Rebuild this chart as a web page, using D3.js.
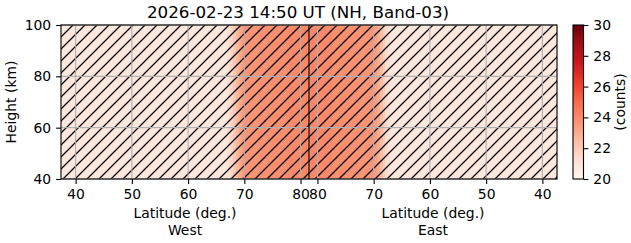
<!DOCTYPE html>
<html>
<head>
<meta charset="utf-8">
<script src="https://cdn.jsdelivr.net/npm/d3@7"></script>
<style>
  body { margin: 0; background: #fff; }
  text { font-family: 'DejaVu Sans', sans-serif; fill: #000; }
</style>
</head>
<body>
<div id="chart"></div>
<script>
const titleText = '2026-02-23 14:50 UT (NH, Band-03)'
const heightRange = [40, 100]
const heightTicks = [40, 60, 80, 100]
const latTicks = [40, 50, 60, 70, 80]
const centerLat = 81.5
const edgeLat = 37.4
// column edges run from the outer edge toward the pole
const westEdges = [37.4, 67.0, 67.5, 68.0, 68.5, 69.0, 69.5, 70.0, 72.5, 75.0, 77.5, 80.0, 81.5]
const westCounts = [20.8, 21.2, 21.6, 22.1, 22.6, 23.1, 23.5, 23.7, 23.8, 23.9, 24.0, 24.1]
const eastEdges = [37.4, 67.0, 67.5, 68.0, 68.5, 69.0, 69.5, 70.0, 72.5, 75.0, 77.5, 80.0, 81.5]
const eastCounts = [20.8, 21.1, 21.4, 21.9, 22.4, 23.0, 23.4, 23.7, 23.8, 23.9, 24.0, 24.1]
const countDomain = [20, 30]
const countTicks = [20, 22, 24, 26, 28, 30]
const redsScheme = ['#fff5f0', '#fee0d2', '#fcbba1', '#fc9272', '#fb6a4a', '#ef3b2c', '#cb181d', '#a50f15', '#67000d']

const W = 631
const H = 243
const margin = { top: 25, left: 61, right: 74, bottom: 64 }
const width = W - margin.left - margin.right
const height = H - margin.top - margin.bottom

const color = d3.scaleSequential(d3.piecewise(d3.interpolateRgb, redsScheme)).domain(countDomain)
const xWest = d3.scaleLinear().domain([edgeLat, centerLat]).range([0, width / 2])
const xEast = d3.scaleLinear().domain([centerLat, edgeLat]).range([width / 2, width])
const y = d3.scaleLinear().domain(heightRange).range([height, 0])

const svg = d3.select('#chart').append('svg')
  .attr('width', W)
  .attr('height', H)

const defs = svg.append('defs')
const hs = 12
const hatch = defs.append('pattern')
  .attr('id', 'hatch')
  .attr('patternUnits', 'userSpaceOnUse')
  .attr('width', hs)
  .attr('height', hs)
hatch.append('path')
  .attr('d', `M0,${hs} L${hs},0 M${-hs / 2},${hs / 2} L${hs / 2},${-hs / 2} M${hs / 2},${hs * 1.5} L${hs * 1.5},${hs / 2}`)
  .attr('stroke', '#000')
  .attr('stroke-width', 1.3)

const g = svg.append('g').attr('transform', `translate(${margin.left}, ${margin.top})`)

const cols = []
westCounts.forEach((v, i) => {
  const a = xWest(westEdges[i]), b = xWest(westEdges[i + 1])
  cols.push({ x0: Math.min(a, b), x1: Math.max(a, b), v })
})
eastCounts.forEach((v, i) => {
  const a = xEast(eastEdges[i]), b = xEast(eastEdges[i + 1])
  cols.push({ x0: Math.min(a, b), x1: Math.max(a, b), v })
})

g.selectAll('.col')
  .data(cols)
  .enter()
  .append('rect')
  .attr('class', 'col')
  .attr('x', (d) => d.x0)
  .attr('width', (d) => d.x1 - d.x0 + 0.5)
  .attr('y', y(heightRange[1]))
  .attr('height', y(heightRange[0]) - y(heightRange[1]))
  .attr('fill', (d) => color(d.v))
  .attr('shape-rendering', 'crispEdges')

g.append('rect')
  .attr('width', width)
  .attr('height', height)
  .attr('fill', 'url(#hatch)')

// grid
const grid = g.append('g').attr('stroke', '#b0b0b0').attr('stroke-width', 1.1)
latTicks.forEach((t) => {
  grid.append('line').attr('x1', xWest(t)).attr('x2', xWest(t)).attr('y1', 0).attr('y2', height)
  grid.append('line').attr('x1', xEast(t)).attr('x2', xEast(t)).attr('y1', 0).attr('y2', height)
})
heightTicks.forEach((t) => {
  grid.append('line').attr('x1', 0).attr('x2', width).attr('y1', y(t)).attr('y2', y(t))
})

g.append('line')
  .attr('x1', xWest(centerLat)).attr('x2', xWest(centerLat))
  .attr('y1', 0).attr('y2', height)
  .attr('stroke', '#000').attr('stroke-width', 1.1)

g.append('rect')
  .attr('width', width)
  .attr('height', height)
  .attr('fill', 'none')
  .attr('stroke', '#000')
  .attr('stroke-width', 1.1)

const styleAxis = (sel) => {
  sel.select('.domain').remove()
  sel.selectAll('.tick line').attr('stroke', '#000').attr('stroke-width', 1.1)
  sel.selectAll('.tick text').attr('font-size', '13.9px').attr('font-family', 'DejaVu Sans')
}

g.append('g')
  .attr('transform', `translate(0, ${height})`)
  .call(d3.axisBottom(xWest).tickValues(latTicks).tickSize(4.9).tickPadding(4.9).tickFormat(d3.format('d')))
  .call(styleAxis)
g.append('g')
  .attr('transform', `translate(0, ${height})`)
  .call(d3.axisBottom(xEast).tickValues(latTicks).tickSize(4.9).tickPadding(4.9).tickFormat(d3.format('d')))
  .call(styleAxis)
g.append('g')
  .call(d3.axisLeft(y).tickValues(heightTicks).tickSize(4.9).tickPadding(4.9))
  .call(styleAxis)

svg.append('text')
  .text(titleText)
  .attr('x', 298)
  .attr('y', margin.top - 7)
  .attr('text-anchor', 'middle')
  .attr('font-size', '16.7px')

const labels = [
  { x: width / 4, side: 'West' },
  { x: width * 3 / 4, side: 'East' }
]
labels.forEach((l) => {
  g.append('text').text('Latitude (deg.)')
    .attr('x', l.x).attr('y', height + 39)
    .attr('text-anchor', 'middle').attr('font-size', '13.9px')
  g.append('text').text(l.side)
    .attr('x', l.x).attr('y', height + 56)
    .attr('text-anchor', 'middle').attr('font-size', '13.9px')
})

svg.append('text')
  .text('Height (km)')
  .attr('transform', `translate(15.5, ${margin.top + height / 2})rotate(-90)`)
  .attr('text-anchor', 'middle')
  .attr('font-size', '13.9px')

// colorbar
const cbX = 573
const cbW = 10.5
const cb = svg.append('g').attr('transform', `translate(${cbX}, ${margin.top})`)
const cy = d3.scaleLinear().domain(countDomain).range([height, 0])
const grad = defs.append('linearGradient')
  .attr('id', 'cbgrad')
  .attr('x1', 0).attr('x2', 0).attr('y1', 1).attr('y2', 0)
d3.range(0, 1.0001, 0.05).forEach((t) => {
  grad.append('stop').attr('offset', t).attr('stop-color', color(countDomain[0] + t * (countDomain[1] - countDomain[0])))
})
cb.append('rect')
  .attr('width', cbW)
  .attr('height', height)
  .attr('fill', 'url(#cbgrad)')
  .attr('stroke', '#000')
  .attr('stroke-width', 1.1)
cb.append('g')
  .attr('transform', `translate(${cbW}, 0)`)
  .call(d3.axisRight(cy).tickValues(countTicks).tickSize(4.9).tickPadding(4.9))
  .call(styleAxis)
svg.append('text')
  .text('(counts)')
  .attr('transform', `translate(625, ${margin.top + height / 2})rotate(-90)`)
  .attr('text-anchor', 'middle')
  .attr('font-size', '13.9px')
</script>
</body>
</html>
